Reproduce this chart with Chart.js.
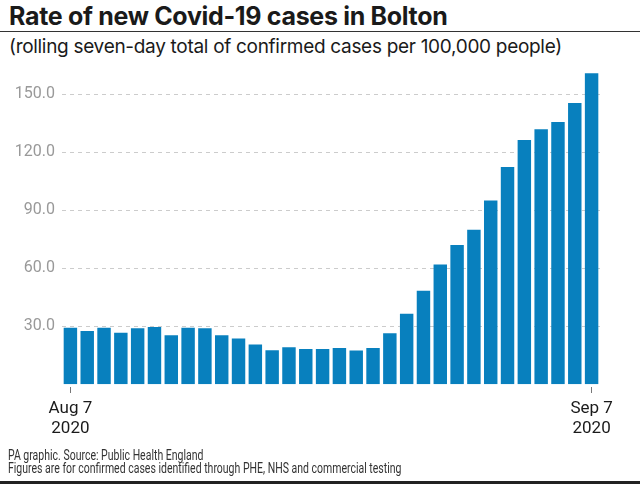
<!DOCTYPE html>
<html lang="en">
<head>
    <meta charset="UTF-8">
    <title>Rate of new Covid-19 cases in Bolton</title>
    <style>
        body {
            margin: 0;
            width: 640px;
            height: 489px;
            background-color: #fff;
            font-family: Roboto, Arial, sans-serif;
            color: #1a1a1a;
            position: relative;
            overflow: hidden;
        }
        .title {
            position: absolute;
            left: 9px;
            top: 1px;
            font-family: Inter, Roboto, sans-serif;
            font-size: 25px;
            font-weight: bold;
            letter-spacing: -0.32px;
            white-space: nowrap;
        }
        .rule {
            position: absolute;
            left: 0;
            top: 31px;
            width: 640px;
            height: 1px;
            background-color: #333;
        }
        .subtitle {
            position: absolute;
            left: 9px;
            top: 35px;
            font-family: Inter, Roboto, sans-serif;
            font-size: 19px;
            letter-spacing: -0.3px;
            white-space: nowrap;
        }
        .footer {
            position: absolute;
            left: 8px;
            top: 449px;
            font-size: 14px;
            line-height: 12.5px;
            color: #333;
            white-space: nowrap;
            transform: scaleX(0.75);
            transform-origin: left top;
        }
        .bottom-rule {
            position: absolute;
            left: 0;
            top: 481px;
            width: 640px;
            height: 3px;
            background-color: #222;
        }
        .chart-box {
            position: absolute;
            left: 0;
            top: 0;
            width: 640px;
            height: 489px;
        }
    </style>
</head>
<body>

<div class="title">Rate of new Covid-19 cases in Bolton</div>
<div class="rule"></div>
<div class="subtitle">(rolling seven-day total of confirmed cases per 100,000 people)</div>

<div class="chart-box">
    <canvas id="casesChart"></canvas>
</div>

<div class="footer">
    PA graphic. Source: Public Health England<br>
    Figures are for confirmed cases identified through PHE, NHS and commercial testing
</div>
<div class="bottom-rule"></div>

<script src="https://cdn.jsdelivr.net/npm/chart.js"></script>
<script>
    // one bar per day, Aug 7 to Sep 7 2020
    const days = [
        'Aug 7', 'Aug 8', 'Aug 9', 'Aug 10', 'Aug 11', 'Aug 12', 'Aug 13', 'Aug 14',
        'Aug 15', 'Aug 16', 'Aug 17', 'Aug 18', 'Aug 19', 'Aug 20', 'Aug 21', 'Aug 22',
        'Aug 23', 'Aug 24', 'Aug 25', 'Aug 26', 'Aug 27', 'Aug 28', 'Aug 29', 'Aug 30',
        'Aug 31', 'Sep 1', 'Sep 2', 'Sep 3', 'Sep 4', 'Sep 5', 'Sep 6', 'Sep 7'
    ];

    const rates = [
        29.2, 27.5, 29.2, 26.6, 28.9, 29.6, 25.3, 29.2,
        28.9, 25.3, 23.6, 20.5, 17.5, 19.1, 18.2, 18.2,
        18.7, 17.4, 18.7, 26.3, 36.4, 48.3, 61.9, 72.0,
        79.9, 94.9, 112.3, 126.2, 131.8, 135.5, 145.4, 160.7
    ];

    const yTicks = [30, 60, 90, 120, 150];

    // only the first and last day get a label and a tick mark
    const labelledDays = {
        0: ['Aug 7', '2020'],
        31: ['Sep 7', '2020']
    };

    const ctx = document.getElementById('casesChart').getContext('2d');
    new Chart(ctx, {
        type: 'bar',
        data: {
            labels: days,
            datasets: [{
                data: rates,
                backgroundColor: '#0880be',
                borderWidth: 0,
                barPercentage: 0.8,
                categoryPercentage: 1.0
            }]
        },
        options: {
            responsive: true,
            maintainAspectRatio: false,
            animation: false,
            layout: {
                padding: { top: 65, right: 40, bottom: 45, left: 0 }
            },
            plugins: {
                legend: { display: false },
                tooltip: { enabled: false }
            },
            scales: {
                x: {
                    border: { display: false },
                    grid: {
                        offset: false,
                        drawOnChartArea: false,
                        tickLength: 9,
                        tickBorderDash: [0, 3, 6, 20],
                        color: (c) => (c.index in labelledDays) ? '#777' : 'transparent'
                    },
                    ticks: {
                        autoSkip: false,
                        maxRotation: 0,
                        padding: 5,
                        color: '#1a1a1a',
                        font: { family: 'Roboto', size: 17, lineHeight: 1.2 },
                        callback: (v, i) => labelledDays[i] || ''
                    }
                },
                y: {
                    min: 0,
                    max: 165,
                    border: { display: false, dash: [4, 4] },
                    afterBuildTicks: (scale) => {
                        scale.ticks = yTicks.map(v => ({ value: v }));
                    },
                    afterFit: (scale) => {
                        scale.width = 62;
                    },
                    grid: {
                        drawTicks: false,
                        color: '#cccccc',
                        lineWidth: 1
                    },
                    ticks: {
                        padding: 7,
                        color: '#999',
                        font: { family: 'Roboto', size: 16 },
                        callback: (v) => v.toFixed(1)
                    }
                }
            }
        }
    });
</script>

</body>
</html>
